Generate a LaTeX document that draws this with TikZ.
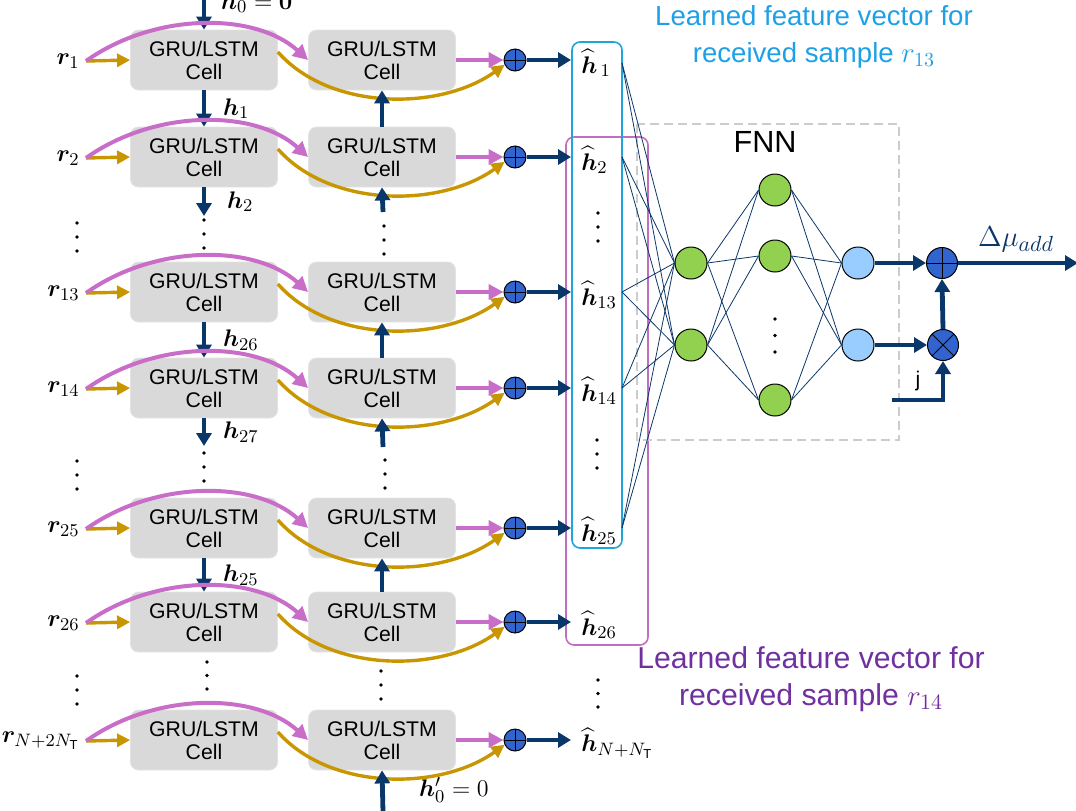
\documentclass[tikz,border=0pt]{standalone}
\usepackage{amsmath,bm}
\usepackage{fontspec}
\setmainfont{Liberation Sans}
\usetikzlibrary{arrows.meta}

\definecolor{darknavy}{RGB}{10,55,105}
\definecolor{pinkc}{RGB}{200,110,200}
\definecolor{goldc}{RGB}{200,150,0}
\definecolor{cellgray}{RGB}{217,217,217}
\definecolor{opblue}{RGB}{50,100,205}
\definecolor{nodegreen}{RGB}{146,208,80}
\definecolor{nodeblue}{RGB}{153,204,255}
\definecolor{boxcyan}{RGB}{30,165,220}
\definecolor{boxpink}{RGB}{192,110,192}
\definecolor{txtcyan}{RGB}{30,160,230}
\definecolor{txtpurple}{RGB}{112,48,160}

\tikzset{
  cell/.style={draw=gray!22, fill=cellgray, rounded corners=4pt,
    minimum width=73.5pt, minimum height=30pt, align=center,
    font=\fontsize{10.6}{11.5}\selectfont},
  addop/.style={circle, draw=black, fill=opblue, inner sep=0pt,
    minimum size=11pt, line width=0.5pt,
    path picture={\draw[black, line width=0.5pt]
      (path picture bounding box.north) -- (path picture bounding box.south)
      (path picture bounding box.west) -- (path picture bounding box.east);}},
  mulop/.style={circle, draw=black, fill=opblue, inner sep=0pt,
    minimum size=15.5pt, line width=0.5pt,
    path picture={\draw[black, line width=0.5pt]
      (path picture bounding box.north east) -- (path picture bounding box.south west)
      (path picture bounding box.north west) -- (path picture bounding box.south east);}},
  bigadd/.style={addop, minimum size=15.5pt},
  neuron/.style={circle, draw=black, line width=0.5pt, minimum size=16pt, inner sep=0pt},
  pinkarrow/.style={draw=pinkc, line width=2pt, -{Triangle[length=7.5pt,width=7.5pt]}},
  goldarrow/.style={draw=goldc, line width=1.7pt, -{Triangle[length=6.5pt,width=6.5pt]}},
  navyarrow/.style={draw=darknavy, line width=2.4pt, -{Triangle[length=6.5pt,width=7.5pt]}},
  link/.style={draw=darknavy, line width=0.4pt},
  mlabel/.style={font=\fontsize{13}{15}\selectfont},
}

\newcommand{\dotcol}[3]{\foreach \k in {0,1,2}{\fill (#1,{#2+\k*#3}) circle (0.9pt);}}

\begin{document}
\begin{tikzpicture}[x=0.5pt, y=-0.5pt]
\useasboundingbox (0,0) rectangle (1076,810);

% ============================================================
% Feature-vector boxes and FNN frame
% ============================================================
\draw[boxpink, line width=0.8pt, rounded corners=4pt] (566,137) rectangle (648,645);
\draw[boxcyan, line width=0.8pt, rounded corners=4pt] (572,42) rectangle (622,548);
\draw[gray!40, line width=1.3pt, dash pattern=on 4.5pt off 2.5pt] (637,124) rectangle (899,440);
\node[font=\fontsize{15.3}{18}\selectfont] (fnn) at (765,142) {FNN};

% ============================================================
% Rows of recurrent cells
% ============================================================
\foreach \i/\y/\r/\h in {1/60/1/{\,1}, 2/157/2/2, 3/292/13/13, 4/388/14/14,
    5/528/25/25, 6/622/26/26, 7/740/{N+2N_{\mathrm{T}}}/{N+N_{\mathrm{T}}}}{
  \node[cell] (L\i) at (204,\y) {GRU/LSTM\\Cell};
  \node[cell] (R\i) at (382,\y) {GRU/LSTM\\Cell};
  \node[addop] (P\i) at (515,\y) {};
  \node[mlabel, anchor=east, inner sep=1pt] (r\i) at (82,\y+1) {$\bm{r}_{\r}$};
  \node[mlabel, anchor=west, inner sep=1pt] (H\i) at (579,\y+3) {$\widehat{\bm{h}}_{\h}$};
}

% --- forward chain (left column, downward) ---
\coordinate (h0top) at (204,-8);
\coordinate (l2end) at (204,216);
\coordinate (l4end) at (204,446);
\draw[navyarrow] (h0top) -- (L1.north);
\node[mlabel, anchor=base west] (h0lbl) at (214,9) {$\bm{h}_0 = \bm{0}$};
\draw[navyarrow] (L1.south) -- (L2.north) node[midway, right=5pt, mlabel] {$\bm{h}_1$};
\draw[navyarrow] (L2.south) -- (l2end) node[midway, right=7pt, mlabel] {$\bm{h}_2$};
\draw[navyarrow] (L3.south) -- (L4.north) node[midway, right=5pt, mlabel] {$\bm{h}_{26}$};
\draw[navyarrow] (L4.south) -- (l4end) node[midway, right=5pt, mlabel] {$\bm{h}_{27}$};
\draw[navyarrow] (L5.south) -- (L6.north) node[midway, right=5pt, mlabel] {$\bm{h}_{25}$};

% ============================================================
% Inputs, skip curves and merges
% ============================================================
\foreach \i/\y in {1/60,2/157,3/292,4/388,5/528,6/622,7/740}{
  \draw[goldarrow] ([xshift=2pt]r\i.east) -- (L\i.west);
  \draw[pinkarrow] ([xshift=2pt]r\i.east) .. controls (155,\y-48) and (255,\y-48) .. (R\i.west);
  \draw[goldarrow] ([yshift=4pt]L\i.east) .. controls (330,\y+51) and (440,\y+51) .. (P\i.205);
  \draw[pinkarrow] (R\i.east) -- (P\i.west);
  \draw[navyarrow] (P\i.east) -- ([xshift=-4pt]P\i.east -| H\i.west);
}

% --- backward chain (right column, upward) ---
\coordinate (r2start) at (383,212);
\coordinate (r4start) at (383,447);
\coordinate (h0bot) at (383,812);
\draw[navyarrow] (R2.north) -- (R1.south);
\draw[navyarrow] (r2start) -- (R2.south);
\draw[navyarrow] (R4.north) -- (R3.south);
\draw[navyarrow] (r4start) -- (R4.south);
\draw[navyarrow] (R6.north) -- (R5.south);
\draw[navyarrow] (h0bot) -- (R7.south);
\node[mlabel, anchor=west] (h0plbl) at (412,790) {$\bm{h}'_0 = 0$};

% --- vertical dots ---
\dotcol{77}{223}{14}
\dotcol{77}{461}{14}
\dotcol{77}{676}{14}
\dotcol{204}{220}{14}
\dotcol{204}{453}{14}
\dotcol{207}{662}{13.5}
\dotcol{384}{226}{14}
\dotcol{385}{460}{14}
\dotcol{381}{671}{14}
\dotcol{598}{213}{14}
\dotcol{597}{440}{14}
\dotcol{598}{680}{13.5}
\dotcol{775}{319}{16.5}

% ============================================================
% FNN
% ============================================================
\node[neuron, fill=nodegreen] (in1) at (691,263) {};
\node[neuron, fill=nodegreen] (in2) at (691,345) {};
\node[neuron, fill=nodegreen] (hid1) at (775,190) {};
\node[neuron, fill=nodegreen] (hid2) at (775,256) {};
\node[neuron, fill=nodegreen] (hid3) at (775,400) {};
\node[neuron, fill=nodeblue] (out1) at (858,263) {};
\node[neuron, fill=nodeblue] (out2) at (858,345) {};

\foreach \i/\y in {1/63,2/157,3/292,4/388,5/528}{
  \coordinate (hx\i) at (622,\y);
  \draw[link] (hx\i) -- (in1.west);
  \draw[link] (hx\i) -- (in2.west);
}
\foreach \a in {1,2}{
  \foreach \b in {1,2,3}{
    \draw[link] (in\a.east) -- (hid\b.west);
    \draw[link] (hid\b.east) -- (out\a.west);
  }
}

% --- output stage ---
\node[bigadd] (oadd) at (942,263) {};
\node[mulop] (omul) at (943,345) {};
\coordinate (jin) at (892,400);
\coordinate (muend) at (1078,263);
\draw[navyarrow] (out1.east) -- (oadd.west);
\draw[navyarrow] (out2.east) -- (omul.west);
\draw[navyarrow] (omul.north) -- (oadd.south);
\draw[navyarrow] (jin) -| (omul.south);
\node[font=\fontsize{10.6}{12}\selectfont] (jlbl) at (918,381) {j};
\draw[navyarrow] (oadd.east) -- (muend);
\node[darknavy, font=\fontsize{15}{18}\selectfont] (mulbl) at (1016,239) {$\Delta\mu_{add}$};

% ============================================================
% Captions
% ============================================================
\node[txtcyan, align=center, font=\fontsize{13.8}{18.5}\selectfont] (capa) at (814,37)
  {Learned feature vector for\\received sample $r_{13}$};
\node[txtpurple, align=center, font=\fontsize{15.1}{18.5}\selectfont] (capb) at (811,679)
  {Learned feature vector for\\received sample $r_{14}$};

\end{tikzpicture}
\end{document}
